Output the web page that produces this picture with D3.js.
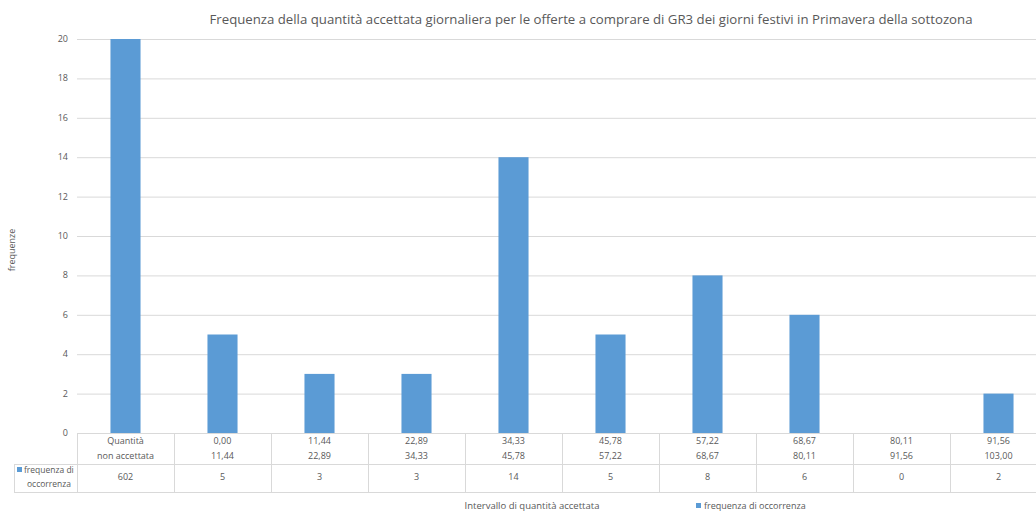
<!DOCTYPE html>
<html><head><meta charset="utf-8">
<script src="https://cdn.jsdelivr.net/npm/d3@7"></script>
<style>body{margin:0;background:#fff}svg{display:block;font-family:"Open Sans","Liberation Sans",sans-serif}</style>
</head><body><svg id="c" width="1036" height="511"></svg>
<script>
const catLine1 = ["Quantità","0,00","11,44","22,89","34,33","45,78","57,22","68,67","80,11","91,56"];
const catLine2 = ["non accettata","11,44","22,89","34,33","45,78","57,22","68,67","80,11","91,56","103,00"];
const values = [602,5,3,3,14,5,8,6,0,2];
const yTicks = [0,2,4,6,8,10,12,14,16,18,20];
const title = "Frequenza della quantità accettata giornaliera per le offerte a comprare di GR3 dei giorni festivi in Primavera della sottozona";
const seriesName = "frequenza di occorrenza";

const svg = d3.select("#c");
const L = 77, colW = 97, plotTop = 39, plotBottom = 433;
const x = d3.scaleBand().domain(d3.range(values.length)).range([L, L + colW*values.length]).paddingInner(0.69).paddingOuter(0.345);
const y = d3.scaleLinear().domain([0,20]).range([plotBottom, plotTop]);
const grey = "#595959", lineC = "#d9d9d9", blue = "#5b9bd5";

svg.append("text").attr("x",591).attr("y",24).attr("text-anchor","middle")
  .attr("font-size",13.5).attr("fill",grey).attr("textLength",763).attr("lengthAdjust","spacingAndGlyphs").text(title);

// gridlines
svg.append("g").selectAll("line").data(yTicks).join("line")
  .attr("x1",L).attr("x2",1036).attr("y1",d=>y(d)+0.5).attr("y2",d=>y(d)+0.5)
  .attr("stroke",lineC).attr("stroke-width",1);
svg.append("g").selectAll("text").data(yTicks).join("text")
  .attr("x",68).attr("y",d=>y(d)+3).attr("text-anchor","end").attr("font-size",9).attr("fill",grey).text(d=>d);

// bars
svg.append("g").selectAll("rect").data(values).join("rect")
  .attr("x",(d,i)=>x(i)).attr("width",x.bandwidth())
  .attr("y",d=>y(Math.min(d,20))).attr("height",d=>plotBottom-y(Math.min(d,20)))
  .attr("fill",blue);

// data table
const tb = svg.append("g").attr("stroke",lineC).attr("stroke-width",1);
const r1 = 464, r2 = 492;
tb.append("line").attr("x1",14).attr("x2",1036).attr("y1",r1+0.5).attr("y2",r1+0.5);
tb.append("line").attr("x1",14).attr("x2",1036).attr("y1",r2+0.5).attr("y2",r2+0.5);
tb.append("line").attr("x1",14.5).attr("x2",14.5).attr("y1",r1).attr("y2",r2);
tb.selectAll("line.v").data(d3.range(values.length+1)).join("line").attr("class","v")
  .attr("x1",i=>L+i*colW+0.5).attr("x2",i=>L+i*colW+0.5).attr("y1",plotBottom).attr("y2",r2);

const ct = svg.append("g").attr("font-size",9).attr("fill",grey).attr("text-anchor","middle");
ct.selectAll("text.a").data(catLine1).join("text").attr("class","a")
  .attr("x",(d,i)=>x(i)+x.bandwidth()/2).attr("y",444).text(d=>d);
ct.selectAll("text.b").data(catLine2).join("text").attr("class","b")
  .attr("x",(d,i)=>x(i)+x.bandwidth()/2).attr("y",459).text(d=>d);
ct.selectAll("text.v").data(values).join("text").attr("class","v")
  .attr("x",(d,i)=>x(i)+x.bandwidth()/2).attr("y",480).text(d=>d);

svg.append("rect").attr("x",17).attr("y",467).attr("width",5).attr("height",5).attr("fill",blue);
svg.append("text").attr("x",24).attr("y",473).attr("font-size",8.5).attr("fill",grey).text("frequenza di");
svg.append("text").attr("x",71).attr("y",487).attr("font-size",8.5).attr("fill",grey).attr("text-anchor","end").text("occorrenza");

// axis titles
svg.append("text").attr("transform","translate(15,250) rotate(-90)").attr("text-anchor","middle")
  .attr("font-size",9).attr("fill",grey).text("frequenze");
svg.append("text").attr("x",532).attr("y",509).attr("text-anchor","middle").attr("font-size",9.5).attr("fill",grey).text("Intervallo di quantità accettata");

// legend
svg.append("rect").attr("x",696).attr("y",503).attr("width",5).attr("height",5).attr("fill",blue);
svg.append("text").attr("x",704).attr("y",509).attr("font-size",9).attr("fill",grey).text(seriesName);
</script></body></html>
